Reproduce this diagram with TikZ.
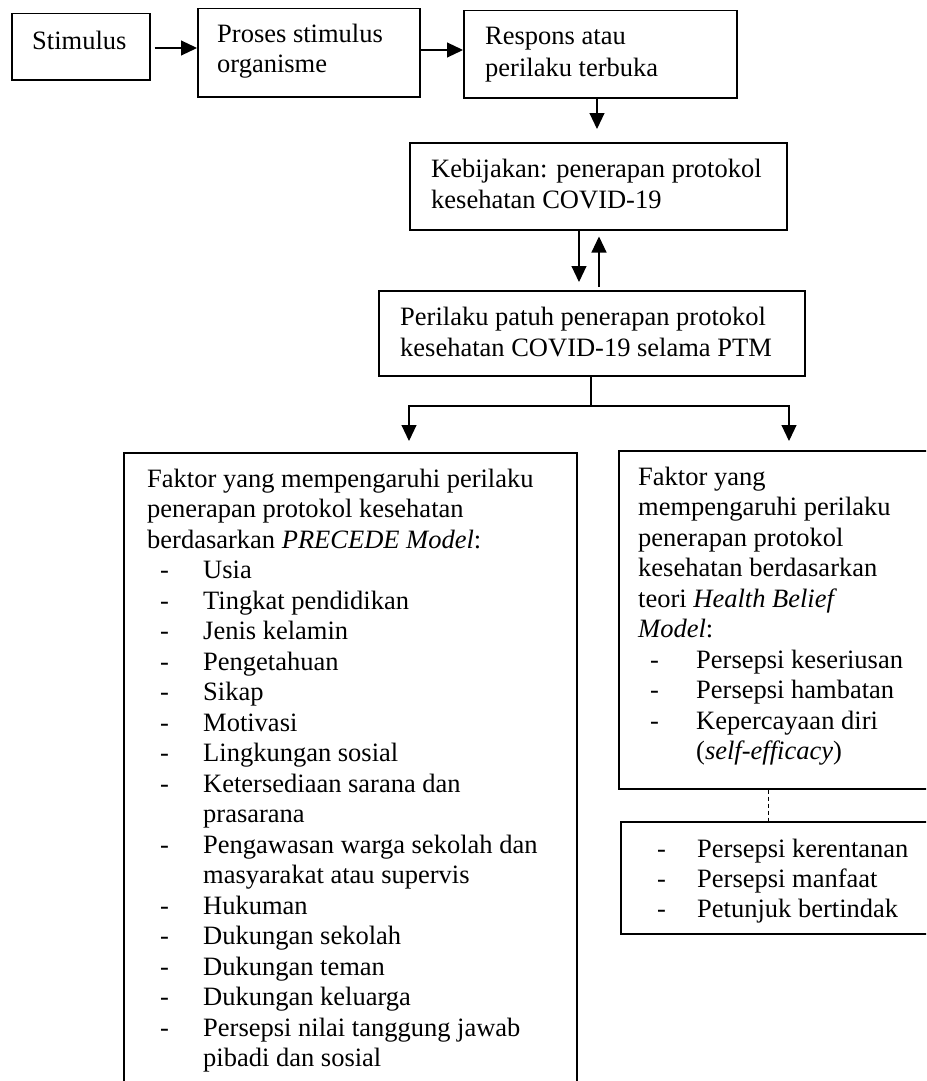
\documentclass[tikz,border=0pt]{standalone}
\usepackage{fontspec}
\setmainfont{Liberation Serif}
\usetikzlibrary{arrows.meta}
\tikzset{
  box/.style={draw, line width=1.5pt, anchor=north west, inner sep=0pt},
  txt/.style={anchor=base west, inner sep=0pt, font=\fontsize{26.5}{30.5}\selectfont},
  arr/.style={line width=1.1pt, -{Triangle[length=16pt,width=15pt]}},
  con/.style={line width=1.1pt},
  dsh/.style={line width=1pt, dash pattern=on 4pt off 3pt},
}
\begin{document}
\begin{tikzpicture}[x=1pt,y=-1pt]
\useasboundingbox (0,0) rectangle (926,1081);
\clip (0,0) rectangle (926,1081);
% boxes
\node[box, minimum width=138pt, minimum height=66pt] (stim) at (11,13) {};
\node[box, minimum width=222pt, minimum height=88pt] (proses) at (197,8) {};
\node[box, minimum width=273pt, minimum height=87pt] (resp) at (463,10) {};
\node[box, minimum width=377pt, minimum height=87pt] (keb) at (409,142) {};
\node[box, minimum width=426pt, minimum height=85pt] (peri) at (378,290) {};
\node[box, minimum width=453pt, minimum height=700pt] (left) at (123,452) {};
\node[box, minimum width=340pt, minimum height=338pt] (right) at (618,450) {};
\node[box, minimum width=340pt, minimum height=112pt] (lower) at (620,821) {};
% texts
\node[txt] (stimT) at (32,49) {Stimulus};
\node[txt] (prosT1) at (217,43) {Proses stimulus};
\node[txt] (prosT2) at (217,73) {organisme};
\node[txt] (respT1) at (485,45) {Respons atau};
\node[txt] (respT2) at (485,76) {perilaku terbuka};
\node[txt] (kebT1) at (431,177) {Kebijakan: penerapan protokol};
\node[txt] (kebT2) at (431,208) {kesehatan COVID-19};
\node[txt] (periT1) at (400,325) {Perilaku patuh penerapan protokol};
\node[txt] (periT2) at (400,356) {kesehatan COVID-19 selama PTM};
% left box
\foreach \t [count=\i from 0] in {Faktor yang mempengaruhi perilaku, penerapan protokol kesehatan, berdasarkan \textit{PRECEDE Model}:}
  \node[txt] (L\i) at (147,487+30.5*\i) {\t};
\foreach \t [count=\i from 3] in {Usia, Tingkat pendidikan, Jenis kelamin, Pengetahuan, Sikap, Motivasi, Lingkungan sosial, Ketersediaan sarana dan, prasarana, Pengawasan warga sekolah dan, masyarakat atau supervis, Hukuman, Dukungan sekolah, Dukungan teman, Dukungan keluarga, Persepsi nilai tanggung jawab, pibadi dan sosial}
  \node[txt] (L\i) at (203,487+30.5*\i) {\t};
\foreach \i in {3,4,5,6,7,8,9,10,12,14,15,16,17,18}
  \node[txt] (LD\i) at (160,487+30.5*\i) {-};
% right box
\foreach \t [count=\i from 0] in {Faktor yang, mempengaruhi perilaku, penerapan protokol, kesehatan berdasarkan, teori \textit{Health Belief}, \textit{Model}:}
  \node[txt] (R\i) at (638,485+30.5*\i) {\t};
\foreach \t [count=\i from 6] in {Persepsi keseriusan, Persepsi hambatan, Kepercayaan diri, {(\textit{self-efficacy})}}
  \node[txt] (R\i) at (696,485+30.5*\i) {\t};
\foreach \i in {6,7,8}
  \node[txt] (RD\i) at (650,485+30.5*\i) {-};
% lower right box
\foreach \t [count=\i from 0] in {Persepsi kerentanan, Persepsi manfaat, Petunjuk bertindak}
  \node[txt] (W\i) at (697,857+30*\i) {\t};
\foreach \i in {0,1,2}
  \node[txt] (WD\i) at (657,857+30*\i) {-};
% connectors
\draw[arr, shorten <=4pt] (stim.east |- 0,48) -- (proses.west |- 0,48);
\draw[arr] (proses.east |- 0,50) -- (resp.west |- 0,50);
\draw[arr, shorten >=13pt] (resp.south -| 597,0) -- (keb.north -| 597,0);
\draw[arr, shorten >=8pt] (keb.south -| 579,0) -- (peri.north -| 579,0);
\draw[arr, shorten <=3pt, shorten >=6pt] (peri.north -| 599,0) -- (keb.south -| 599,0);
\coordinate (br) at (591,406);
\draw[con] (peri.south -| br) -- (br);
\draw[arr, shorten >=11pt] (br) -| (left.north -| 409,0);
\draw[arr, shorten >=9pt] (br) -| (right.north -| 789,0);
\draw[dsh] (right.south -| 768,0) -- (lower.north -| 768,0);
\end{tikzpicture}
\end{document}
